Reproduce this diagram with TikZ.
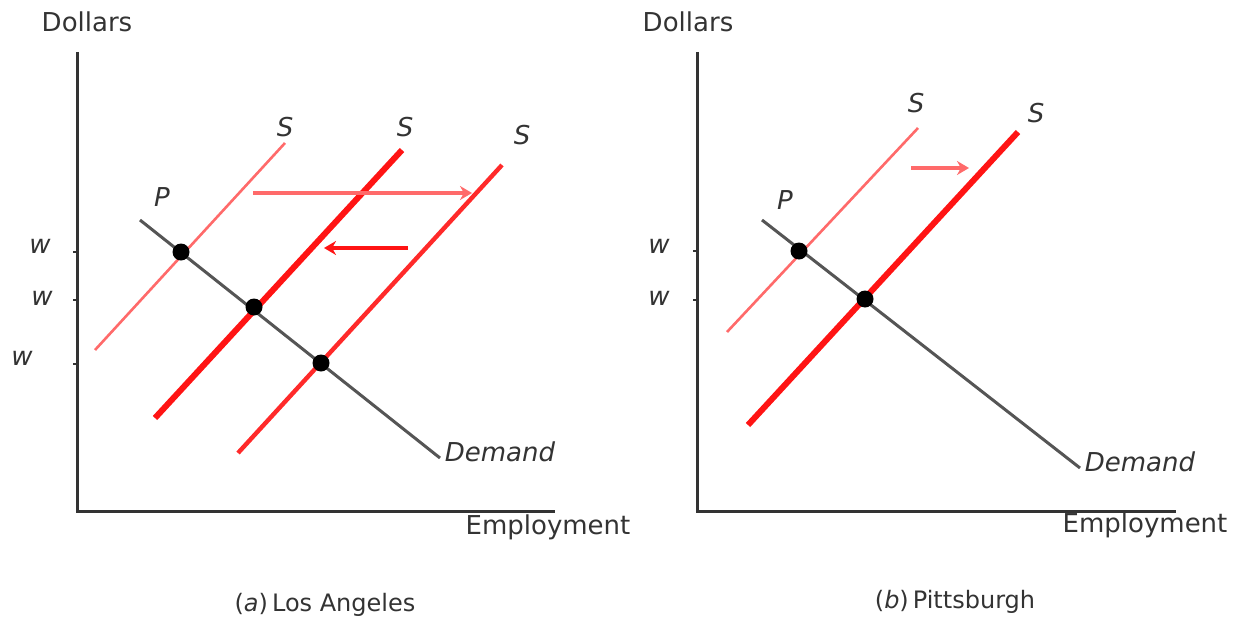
\documentclass[tikz,border=0pt]{standalone}
\usepackage{fontspec}
\setmainfont{DejaVu Sans}
\usetikzlibrary{arrows.meta}
\definecolor{axisgray}{HTML}{333333}
\definecolor{demgray}{HTML}{555555}
\definecolor{lightred}{HTML}{FF6A6A}
\definecolor{strongred}{HTML}{FF1414}
\definecolor{midred}{HTML}{FF2A2A}
\tikzset{
  axis/.style={draw=axisgray, line width=1.5pt},
  tickmark/.style={draw=axisgray, line width=0.8pt},
  demand/.style={draw=demgray, line width=1.5pt},
  supthin/.style={draw=lightred, line width=1.3pt},
  supthick/.style={draw=strongred, line width=3pt},
  supmid/.style={draw=midred, line width=2.2pt},
  shiftarrow/.style={line width=2pt, -{Stealth[length=6pt,width=7pt]}},
  lbl/.style={font=\fontsize{13}{15}\selectfont, text=axisgray, inner sep=0pt},
  ilbl/.style={lbl, font=\fontsize{13}{15}\selectfont\itshape},
  captext/.style={font=\fontsize{12}{14}\selectfont, text=axisgray, inner sep=0pt},
  eq/.style={circle, fill=black, minimum size=8.5pt, inner sep=0pt}
}
\begin{document}
\begin{tikzpicture}[x=0.5pt, y=-0.5pt]
\useasboundingbox (0,0) rectangle (1234,626);
% ---------------- Left panel: Los Angeles ----------------
\coordinate (aY) at (77,52);
\coordinate (aO) at (77,511);
\coordinate (aX) at (555,511);
\draw[axis] (aY) -- (aO) -- (aX);
\node[lbl] (aDollars) at (87,22) {Dollars};
\node[lbl] (aEmp) at (548,527) {Employment};
\draw[tickmark] (73,252) -- (77,252);
\draw[tickmark] (73,300) -- (77,300);
\draw[tickmark] (73,364) -- (77,364);
\node[ilbl] (aw1) at (40,246) {w};
\node[ilbl] (aw2) at (42,298) {w};
\node[ilbl] (aw3) at (22,358) {w};
% demand
\coordinate (aD1) at (140,220);
\coordinate (aD2) at (440,458);
\draw[demand] (aD1) -- (aD2);
\node[ilbl] (aDem) at (500,452) {Demand};
% supplies
\coordinate (aS1a) at (95,350);
\coordinate (aS1b) at (285,143);
\draw[supthin] (aS1a) -- (aS1b);
\coordinate (aS2a) at (155,418);
\coordinate (aS2b) at (402,150);
\draw[supthick] (aS2a) -- (aS2b);
\coordinate (aS3a) at (238,453);
\coordinate (aS3b) at (502,165);
\draw[supmid] (aS3a) -- (aS3b);
\node[ilbl] (aS1) at (285,127) {S};
\node[ilbl] (aS2) at (405,127) {S};
\node[ilbl] (aS3) at (522,135) {S};
\node[ilbl] (aP) at (162,197) {P};
% equilibria
\node[eq] (aE1) at (181,252) {};
\node[eq] (aE2) at (254,307) {};
\node[eq] (aE3) at (321,363) {};
% arrows
\coordinate (aR1) at (253,193);
\coordinate (aR2) at (472,193);
\draw[shiftarrow, draw=lightred, fill=lightred] (aR1) -- (aR2);
\coordinate (aL1) at (408,248);
\coordinate (aL2) at (324,248);
\draw[shiftarrow, draw=strongred, fill=strongred] (aL1) -- (aL2);
\node[captext] (acap) at (325,605) {(\textit{a})\,Los Angeles};
% ---------------- Right panel: Pittsburgh ----------------
\coordinate (bY) at (697,52);
\coordinate (bO) at (697,511);
\coordinate (bX) at (1176,511);
\draw[axis] (bY) -- (bO) -- (bX);
\node[lbl] (bDollars) at (688,22) {Dollars};
\node[lbl] (bEmp) at (1145,525) {Employment};
\draw[tickmark] (693,251) -- (697,251);
\draw[tickmark] (693,300) -- (697,300);
\node[ilbl] (bw1) at (659,246) {w};
\node[ilbl] (bw2) at (659,298) {w};
\coordinate (bD1) at (762,220);
\coordinate (bD2) at (1080,468);
\draw[demand] (bD1) -- (bD2);
\node[ilbl] (bDem) at (1140,462) {Demand};
\coordinate (bS1a) at (727,332);
\coordinate (bS1b) at (918,128);
\draw[supthin] (bS1a) -- (bS1b);
\coordinate (bS2a) at (748,425);
\coordinate (bS2b) at (1018,132);
\draw[supthick] (bS2a) -- (bS2b);
\node[ilbl] (bS1) at (916,103) {S};
\node[ilbl] (bS2) at (1036,113) {S};
\node[ilbl] (bP) at (785,200) {P};
\node[eq] (bE1) at (799,251) {};
\node[eq] (bE2) at (865,299) {};
\coordinate (bR1) at (911,168);
\coordinate (bR2) at (969,168);
\draw[shiftarrow, draw=lightred, fill=lightred] (bR1) -- (bR2);
\node[captext] (bcap) at (955,602) {(\textit{b})\,Pittsburgh};
\end{tikzpicture}
\end{document}
